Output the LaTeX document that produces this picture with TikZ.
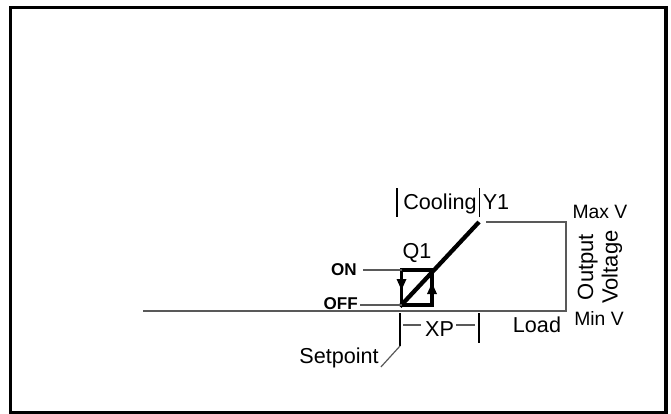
\documentclass[tikz,border=0pt]{standalone}
\usepackage{fontspec}
\setmainfont{Liberation Sans}
\tikzset{
  thinline/.style={black!65, line width=0.9pt},
  boldline/.style={black, line width=2.6pt},
  lbl/.style={inner sep=0pt, font=\fontsize{16.2}{18}\selectfont},
  small/.style={inner sep=0pt, font=\fontsize{14.5}{16}\selectfont},
  onoff/.style={inner sep=0pt, font=\fontsize{12.8}{14}\selectfont\bfseries},
}

\begin{document}
\begin{tikzpicture}[x=0.75pt, y=-0.75pt]
      \useasboundingbox (0,0) rectangle (671,414);
      \draw[line width=2.3pt] (10.5,7.5) rectangle (666,412.5);
      % axes and output range
      \coordinate (start) at (143,311);
      \coordinate (minv) at (566,311);
      \coordinate (maxv) at (566,222);
      \coordinate (y1) at (486,222);
      \draw[thinline] (start) -- (minv) -- (maxv) -- (y1);
      % hysteresis box
      \coordinate (sw) at (401.5,305);
      \coordinate (se) at (432,305);
      \coordinate (ne) at (432,270);
      \coordinate (nw) at (401.5,270);
      \draw[boldline] (sw) -- (se) -- (ne) -- (nw) -- cycle;
      \fill (396.5,279) -- (406.5,279) -- (401.5,290) -- cycle;
      \fill (427,294) -- (437,294) -- (432,283) -- cycle;
      \coordinate (top) at (479,222);
      \draw[black, line width=3.2pt] (400,306.5) -- (top);
      % labels
      \node[onoff, anchor=base east] (on) at (357,275.5) {ON};
      \node[onoff, anchor=base east] (off) at (358,309) {OFF};
      \draw[thinline] (363,270) -- (nw);
      \draw[thinline] (off.east |- 0,305) ++(2,0) -- (sw);
      \node[lbl, anchor=base] (q1) at (417,258) {Q1};
      \node[lbl, anchor=base] (cool) at (440,209.5) {Cooling};
      \node[lbl, anchor=base] (ylab) at (496,209.5) {Y1};
      \draw[black, line width=1.2pt] (397,188) -- (397,217);
      \draw[black, line width=1.2pt] (479.5,188) -- (479.5,217);
      \node[small, anchor=base] (maxlab) at (600,218) {Max V};
      \node[small, anchor=base] (minlab) at (599,325) {Min V};
      \node[lbl, rotate=90, align=center, font=\fontsize{16.5}{18.5}\selectfont] (outv) at (600,267) {Output\\Voltage};
      \node[lbl, anchor=base] (load) at (537,332) {Load};
      % proportional band
      \coordinate (xpl) at (400,313);
      \coordinate (xpr) at (479,313);
      \draw[black, line width=1.2pt] (xpl) -- (400,346);
      \draw[black, line width=1.2pt] (xpr) -- (479,343);
      \node[lbl, anchor=base] (xp) at (439.5,336) {XP};
      \draw[thinline] (403,325) -- (421,325);
      \draw[thinline] (456,325) -- (475,325);
      \node[lbl, anchor=base] (setp) at (339,363) {Setpoint};
      \draw[thinline] (setp.base east) ++(2,4) -- (400,346);
\end{tikzpicture}
\end{document}
